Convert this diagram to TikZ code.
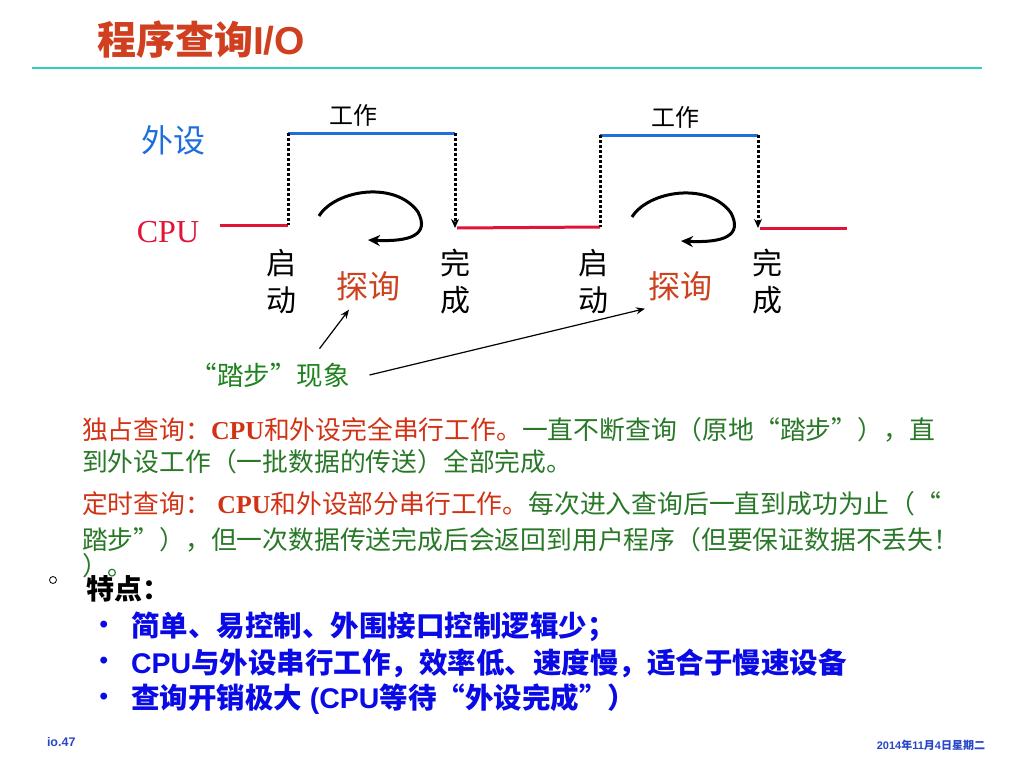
\documentclass[tikz,border=0pt]{standalone}
\usepackage{fontspec}
\setmainfont{Liberation Serif}
\newfontfamily\cjk{Noto Sans CJK SC}
\newfontfamily\arialfont{Liberation Sans}
\usetikzlibrary{positioning,calc,arrows.meta}
\definecolor{colorTitle}{RGB}{208,64,32}
\definecolor{colorRule}{RGB}{50,205,190}
\definecolor{colorDEV}{RGB}{30,110,220}
\definecolor{colorCPU}{RGB}{225,20,55}
\definecolor{colorProbe}{RGB}{205,65,30}
\definecolor{colorStep}{RGB}{30,130,30}
\definecolor{colorParR}{RGB}{210,50,20}
\definecolor{colorParG}{RGB}{40,120,40}
\definecolor{colorBul}{RGB}{10,10,230}
\definecolor{colorFoot}{RGB}{40,70,200}
\newcommand{\fsz}[1]{\fontsize{#1}{#1}\selectfont}
\tikzset{
   txt/.style={inner sep=0pt,outer sep=0pt},
   cpu/.style={-,color=colorCPU,line width=3pt},
   dev/.style={-,color=colorDEV,line width=3pt},
   sig/.style={-,line width=3pt,dash pattern=on 3pt off 2pt,black},
   sigdone/.style={-{Stealth[length=9pt,width=8pt]},line width=3pt,dash pattern=on 3pt off 2pt,black},
   poll/.style={-{Stealth[length=12pt,width=11pt]},line width=3pt,black},
   ann/.style={-{Stealth[length=9pt,width=7pt]},line width=1.2pt,black},
   par/.style={txt,anchor=west,font=\fsz{25.8}\cjk},
   bul/.style={txt,anchor=west,font=\fsz{28.5}\cjk\bfseries,text=colorBul},
   dot/.style={txt,font=\fsz{24}\arialfont\bfseries,text=colorBul},
}
\begin{document}
\begin{tikzpicture}[x=1pt,y=-1pt]
      \useasboundingbox (0,0) rectangle (1024,768);

      \node[txt,anchor=west,font=\fsz{39}\cjk\bfseries,text=colorTitle] (title)
      at (97,40) {程序查询{\arialfont\bfseries I/O}};
      \draw[colorRule,line width=2pt] (32,68) -- (982,68);

      % timing
      \node[txt,font=\fsz{32}\cjk,text=colorDEV] (devlab) at (173,140) {外设};
      \node[txt,font=\fsz{32},text=colorCPU] (cpulab) at (168,232) {CPU};

      \coordinate (c0) at (220,225);
      \coordinate (s1) at (288,225);
      \coordinate (s1t) at (288,133);
      \coordinate (d1t) at (455,133);
      \coordinate (d1) at (455,228);
      \coordinate (c1) at (457,228);
      \coordinate (s2) at (600,227);
      \coordinate (s2t) at (600,135);
      \coordinate (d2t) at (758,135);
      \coordinate (d2) at (758,228);
      \coordinate (c2) at (760,228);
      \coordinate (c3) at (847,228);

      \draw[cpu] (c0) -- (s1);
      \draw[cpu] (c1) -- (s2);
      \draw[cpu] (c2) -- (c3);
      \draw[dev] (s1t) -- (d1t);
      \draw[dev] (s2t) -- (d2t);
      \draw[sig] (s1t) -- (s1);
      \draw[sigdone] (d1t) -- (d1);
      \draw[sig] (s2t) -- (s2);
      \draw[sigdone] (d2t) -- (d2);

      \node[txt,font=\fsz{24}\cjk] (work1) at (353,115) {工作};
      \node[txt,font=\fsz{24}\cjk] (work2) at (675,117) {工作};

      % polling loops
      \coordinate (p1s) at (319,216);
      \coordinate (p1m) at (418,212);
      \coordinate (p1e) at (368,240);
      \coordinate (p2s) at (632,217);
      \coordinate (p2m) at (731,213);
      \coordinate (p2e) at (681,241);
      \draw[poll] (p1s) .. controls ($(p1s)+(16,-26)$) and ($(p1m)+(-23,-32)$) .. (p1m)
                        .. controls ($(p1m)+(12,23)$) and ($(p1e)+(42,2)$) .. (p1e);
      \draw[poll] (p2s) .. controls ($(p2s)+(16,-26)$) and ($(p2m)+(-23,-32)$) .. (p2m)
                        .. controls ($(p2m)+(12,23)$) and ($(p2e)+(42,2)$) .. (p2e);

      \node[txt,align=center,font=\fontsize{30}{37}\selectfont\cjk] (start1) at (281,282) {启\\动};
      \node[txt,align=center,font=\fontsize{30}{37}\selectfont\cjk] (done1) at (455,282) {完\\成};
      \node[txt,align=center,font=\fontsize{30}{37}\selectfont\cjk] (start2) at (593,282) {启\\动};
      \node[txt,align=center,font=\fontsize{30}{37}\selectfont\cjk] (done2) at (767,282) {完\\成};
      \node[txt,font=\fsz{32}\cjk,text=colorProbe] (probe1) at (368,286) {探询};
      \node[txt,font=\fsz{32}\cjk,text=colorProbe] (probe2) at (680,286) {探询};

      \node[txt,font=\fsz{26.5}\cjk,text=colorStep] (tabu) at (270,375) {“踏步”现象};
      \draw[ann] ($(tabu.north east)+(-30,-14)$) -- ($(probe1.south west)+(13,9)$);
      \draw[ann] ($(tabu.east)+(20,0)$) -- ($(probe2.south west)+(-3,8)$);

      % text
      \node[par] (p1a) at (82,430)
      {\textcolor{colorParR}{独占查询：{\rmfamily\bfseries CPU}和外设完全串行工作。}\textcolor{colorParG}{一直不断查询（原地“踏步”），直}};
      \node[par,text=colorParG] (p1b) at (82,462) {到外设工作（一批数据的传送）全部完成。};
      \node[par] (p2a) at (82,504)
      {\textcolor{colorParR}{定时查询：{\rmfamily\bfseries\ CPU}和外设部分串行工作。}\textcolor{colorParG}{每次进入查询后一直到成功为止（“}};
      \node[par,text=colorParG] (p2b) at (82,540) {踏步”），但一次数据传送完成后会返回到用户程序（但要保证数据不丢失！};
      \node[par,text=colorParG] (p2c) at (82,566) {）。};

      \node[circle,draw,inner sep=0pt,minimum size=7pt,line width=0.8pt] (hb) at (53,580) {};
      \node[txt,anchor=west,font=\fsz{28}\cjk\bfseries] (feat) at (86,589) {特点：};

      \node[bul] (l1) at (131,627) {简单、易控制、外围接口控制逻辑少；};
      \node[bul] (l2) at (131,663) {{\arialfont\bfseries CPU}与外设串行工作，效率低、速度慢，适合于慢速设备};
      \node[bul] (l3) at (131,699) {查询开销极大{\arialfont\bfseries\ (CPU}等待“外设完成”）};
      \node[dot] (b1) [left = 23pt of l1] {•};
      \node[dot] (b2) [left = 23pt of l2] {•};
      \node[dot] (b3) [left = 23pt of l3] {•};

      % footer
      \node[txt,anchor=west,font=\fsz{12.5}\arialfont\bfseries,text=colorFoot] (page) at (47,742) {io.47};
      \node[txt,anchor=east,font=\fsz{11}\cjk\bfseries,text=colorFoot] (date) at (985,745)
      {{\arialfont\bfseries 2014}年{\arialfont\bfseries 11}月{\arialfont\bfseries 4}日星期二};
\end{tikzpicture}
\end{document}
